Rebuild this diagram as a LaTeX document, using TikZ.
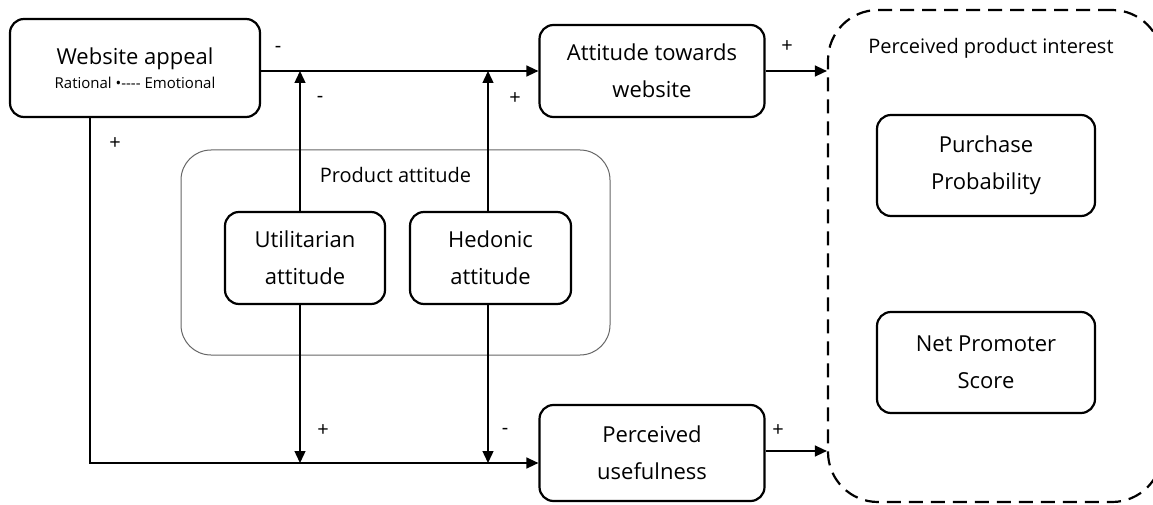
\documentclass[tikz,border=0pt]{standalone}
\usepackage{fontspec}
\setmainfont{Open Sans}
\usetikzlibrary{positioning, arrows.meta}

\begin{document}
\begin{tikzpicture}[x=1pt, y=-1pt, line width=1.4pt, >={Triangle[length=12pt, width=11pt]},
  box/.style={draw, line width=2.2pt, rounded corners=14pt, align=center, inner sep=0pt,
    font=\fontsize{22}{37}\selectfont},
  sign/.style={font=\fontsize{20}{20}\selectfont}]
  \useasboundingbox (0,0) rectangle (1153,505);
  % boxes
  \node[box, minimum width=250pt, minimum height=98pt, font=\fontsize{22}{24}\selectfont] (appeal) at (135,68)
    {Website appeal\\{\fontsize{15}{15}\selectfont Rational •-{}-{}-{}- Emotional}};
  \node[box, minimum width=225pt, minimum height=92pt] (attweb) at (652,71) {Attitude towards\\website};
  \node[draw, gray!80!black, line width=1pt, rounded corners=30pt, minimum width=429pt, minimum height=205pt] (prod) at (395.5,252.5) {};
  \node[font=\fontsize{20}{20}\selectfont, below=14pt of prod.north, anchor=north] {Product attitude};
  \node[box, minimum width=160pt, minimum height=92pt] (util) at (305,258) {Utilitarian\\attitude};
  \node[box, minimum width=161pt, minimum height=92pt] (hed) at (490.5,258) {Hedonic\\attitude};
  \node[box, minimum width=225pt, minimum height=96pt] (useful) at (652,453) {Perceived\\usefulness};
  \node[draw, line width=2.2pt, dash pattern=on 14pt off 8pt, rounded corners=50pt, minimum width=334pt, minimum height=492pt] (interest) at (995,256) {};
  \node[font=\fontsize{20}{20}\selectfont] at (991,48) {Perceived product interest};
  \node[box, minimum width=218pt, minimum height=101pt] (purch) at (986,165.5) {Purchase\\Probability};
  \node[box, minimum width=218pt, minimum height=101pt] (nps) at (986,362.5) {Net Promoter\\Score};
  % connectors
  \coordinate (low) at ([yshift=-10pt]useful.west);
  \coordinate (out) at ([yshift=2pt]useful.east);
  \draw[->] (appeal.east |- attweb.west) -- (attweb.west);
  \draw[->] ([xshift=-45pt]appeal.south) -- ([xshift=-45pt]appeal.south |- low) -- (low);
  \draw[->] ([xshift=-5pt]util.north) -- ([xshift=-5pt]util.north |- attweb.west);
  \draw[->] ([xshift=-2.5pt]hed.north) -- ([xshift=-2.5pt]hed.north |- attweb.west);
  \draw[->] ([xshift=-5pt]util.south) -- ([xshift=-5pt]util.south |- low);
  \draw[->] ([xshift=-2.5pt]hed.south) -- ([xshift=-2.5pt]hed.south |- low);
  \draw[->] (attweb.east) -- (interest.west |- attweb.east);
  \draw[->] (out) -- (interest.west |- out);
  % signs
  \node[sign] at (278,49) {-};
  \node[sign] at (320,99) {-};
  \node[sign] at (515,99) {+};
  \node[sign] at (115,144) {+};
  \node[sign] at (787,47) {+};
  \node[sign] at (323,431) {+};
  \node[sign] at (505,431) {-};
  \node[sign] at (778,431) {+};
\end{tikzpicture}
\end{document}
